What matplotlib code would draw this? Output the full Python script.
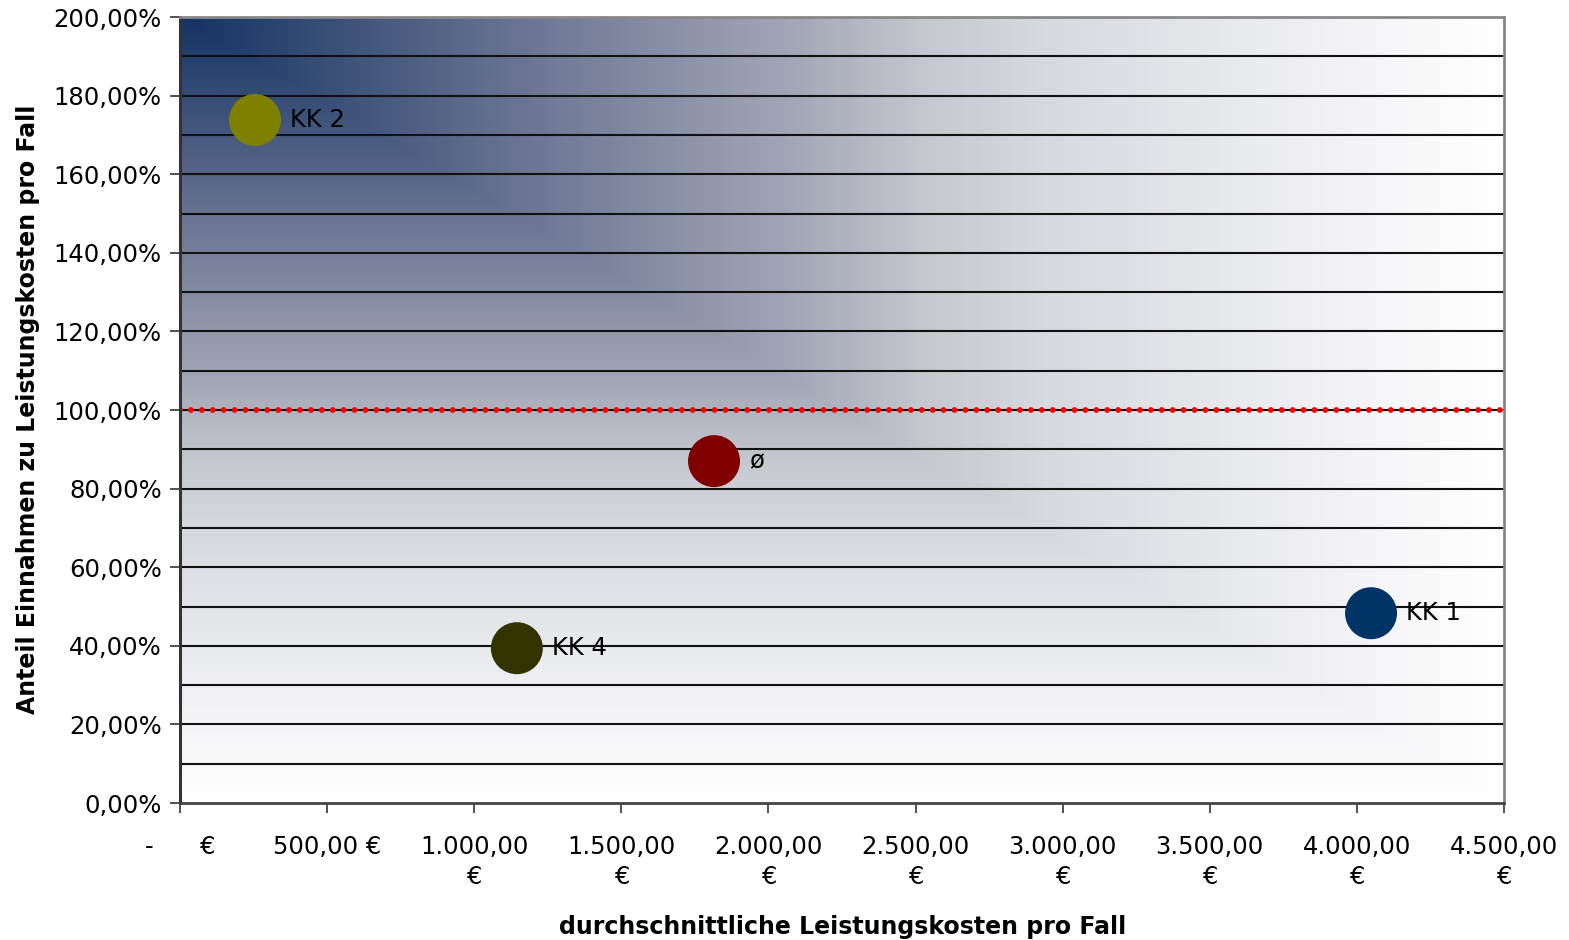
import matplotlib
matplotlib.use("Agg")
import matplotlib.pyplot as plt
import numpy as np
from matplotlib.colors import LinearSegmentedColormap

# bubble data: Leistungskosten pro Fall (EUR) vs Anteil Einnahmen (%)
names = ['KK 2', 'ø', 'KK 4', 'KK 1']
kosten = [255, 1815, 1145, 4048]
anteil = [173.8, 87.0, 39.4, 48.3]
colors = ['#808000', '#800000', '#333300', '#003366']

# 100% reference line
ref_x = [0, 4500]
ref_y = [100, 100]

x_ticks = [0, 500, 1000, 1500, 2000, 2500, 3000, 3500, 4000, 4500]
x_labels = ['-      €', '500,00 €', '1.000,00\n€', '1.500,00\n€', '2.000,00\n€',
            '2.500,00\n€', '3.000,00\n€', '3.500,00\n€', '4.000,00\n€', '4.500,00\n€']
y_ticks = [0, 20, 40, 60, 80, 100, 120, 140, 160, 180, 200]
y_labels = ['0,00%', '20,00%', '40,00%', '60,00%', '80,00%', '100,00%',
            '120,00%', '140,00%', '160,00%', '180,00%', '200,00%']
grid_y = [10, 20, 30, 40, 50, 60, 70, 80, 90, 100, 110, 120, 130, 140, 150,
          160, 170, 180, 190]

plt.rcParams['font.family'] = ['DejaVu Sans']

fig = plt.figure(figsize=(15.69, 9.40), dpi=100)
ax = fig.add_axes([0.1147, 0.1457, 0.8439, 0.8362])

# corner gradient background (dark blue top-left -> white bottom-right)
cmap = LinearSegmentedColormap.from_list('bg', [
    (0.0, (0.08, 0.20, 0.39)),
    (0.25, (0.41, 0.45, 0.57)),
    (0.47, (0.65, 0.66, 0.72)),
    (0.56, (0.77, 0.78, 0.81)),
    (0.65, (0.84, 0.85, 0.87)),
    (0.9, (0.96, 0.96, 0.97)),
    (1.0, (1.0, 1.0, 1.0)),
])
xf = np.linspace(0, 1, 400)
yf = np.linspace(0, 1, 300)
XX, YY = np.meshgrid(xf, yf)
T = np.maximum(XX, YY)
ax.imshow(T, cmap=cmap, extent=[0, 4500, 0, 200], origin='upper', aspect='auto',
          interpolation='bilinear', zorder=0)

for g in grid_y:
    ax.axhline(g, color='#111111', lw=1.5, zorder=1)

ax.plot(ref_x, ref_y, color='red', lw=4.2, dashes=(0.01, 1.86),
        dash_capstyle='round', zorder=2)

ax.scatter(kosten, anteil, s=1400, c=colors, zorder=3, linewidths=0)
for n, x, y in zip(names, kosten, anteil):
    ax.annotate(n, (x, y), xytext=(35, 0), textcoords='offset pixels',
                va='center', ha='left', fontsize=17.5, color='black', zorder=4)

ax.set_xlim(0, 4500)
ax.set_ylim(0, 200)
ax.set_xticks(x_ticks)
ax.set_xticklabels(x_labels, fontsize=17.5, linespacing=1.3)
ax.set_yticks(y_ticks)
ax.set_yticklabels(y_labels, fontsize=17.5)
ax.tick_params(axis='x', length=7, width=1.2, color='#333333', pad=16)
ax.tick_params(axis='y', length=7, width=1.2, color='#333333', pad=6)

ax.spines['left'].set_color('#333333')
ax.spines['left'].set_linewidth(2.2)
ax.spines['bottom'].set_color('#444444')
ax.spines['bottom'].set_linewidth(2)
ax.spines['top'].set_color('#888888')
ax.spines['top'].set_linewidth(2)
ax.spines['right'].set_color('#888888')
ax.spines['right'].set_linewidth(2)

fig.text(0.537, 0.014, 'durchschnittliche Leistungskosten pro Fall',
         ha='center', va='center', fontsize=17, fontweight='bold')
fig.text(0.018, 0.565, 'Anteil Einnahmen zu Leistungskosten pro Fall',
         ha='center', va='center', rotation=90, fontsize=17, fontweight='bold')

fig.savefig('out.png', dpi=100)
